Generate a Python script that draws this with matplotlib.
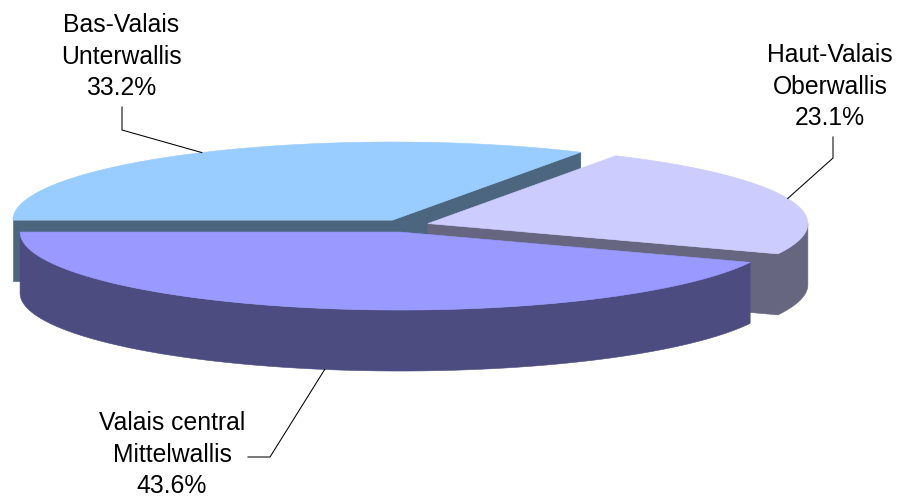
import numpy as np
import matplotlib.pyplot as plt
from matplotlib.patches import Polygon

# slices, clockwise from the left edge
names_fr = ["Bas-Valais", "Haut-Valais", "Valais central"]
names_de = ["Unterwallis", "Oberwallis", "Mittelwallis"]
shares = [33.2, 23.1, 43.6]

top_colors = ["#99CCFF", "#CCCCFF", "#9999FF"]
side_colors = ["#4C6680", "#666680", "#4C4C80"]
explode = [0.074, 0.058, 0.092]

# geometry in pixels
cx0, cy0 = 407, 225
rx, ry, depth = 380, 78, 61

fig = plt.figure(figsize=(8.99, 4.98), dpi=100)
ax = fig.add_axes([0, 0, 1, 1])
ax.set_xlim(0, 899)
ax.set_ylim(498, 0)
ax.axis("off")

fracs = np.array(shares) / sum(shares)
ends = 180 - np.cumsum(fracs) * 360
starts = np.concatenate([[180], ends[:-1]])


def pt(cx, cy, t, dz=0.0):
    r = np.radians(t)
    return cx + rx * np.cos(r), cy - ry * np.sin(r) + dz


def arc(cx, cy, a, b, dz=0.0, n=200):
    ts = np.linspace(a, b, n)
    return [pt(cx, cy, t, dz) for t in ts]


slices = []
for i in range(len(shares)):
    a0, a1 = ends[i], starts[i]  # counterclockwise a0 -> a1
    bis = (a0 + a1) / 2
    b = np.radians(bis)
    cx = cx0 + explode[i] * rx * np.cos(b)
    cy = cy0 - explode[i] * ry * np.sin(b)
    slices.append((i, a0, a1, bis, cx, cy))

# back to front
for i, a0, a1, bis, cx, cy in sorted(slices, key=lambda s: -np.sin(np.radians(s[3]))):
    side = side_colors[i]
    kw = dict(facecolor=side, edgecolor=side, linewidth=0.4)
    # radial faces
    for ang, vis in ((a0, np.cos(np.radians(a0)) > 0), (a1, np.cos(np.radians(a1)) < 0)):
        if vis:
            p = pt(cx, cy, ang)
            q = pt(cx, cy, ang, depth)
            ax.add_patch(Polygon([(cx, cy), p, q, (cx, cy + depth)], closed=True, **kw))
    # outer wall, front part only
    for lo, hi in ((-180, 0), (180, 360)):
        s, e = max(a0, lo), min(a1, hi)
        if e > s:
            pts = arc(cx, cy, s, e) + arc(cx, cy, e, s, depth)
            ax.add_patch(Polygon(pts, closed=True, **kw))
    # top face
    pts = [(cx, cy)] + arc(cx, cy, a0, a1)
    ax.add_patch(Polygon(pts, closed=True, facecolor=top_colors[i],
                         edgecolor=top_colors[i], linewidth=0.4))

# labels
label_x = [121, 830, 172]
label_base = [32, 62, 430]
elbows = [[(122, 107), (122, 130)], [(833, 137), (833, 158)], [(248, 457), (270, 457)]]
for i, a0, a1, bis, cx, cy in slices:
    lines = [names_fr[i], names_de[i], f"{shares[i]:.1f}%"]
    for k, s in enumerate(lines):
        ax.text(label_x[i], label_base[i] + 31.5 * k, s, ha="center", va="baseline",
                fontsize=17.8, family="Liberation Sans", color="black")
    if np.sin(np.radians(bis)) < 0:
        anchor = pt(cx, cy, bis, depth)
    else:
        anchor = pt(cx, cy, bis)
    xs = [p[0] for p in elbows[i]] + [anchor[0]]
    ys = [p[1] for p in elbows[i]] + [anchor[1]]
    ax.plot(xs, ys, color="black", linewidth=0.75)

fig.savefig("out.png", dpi=100)
